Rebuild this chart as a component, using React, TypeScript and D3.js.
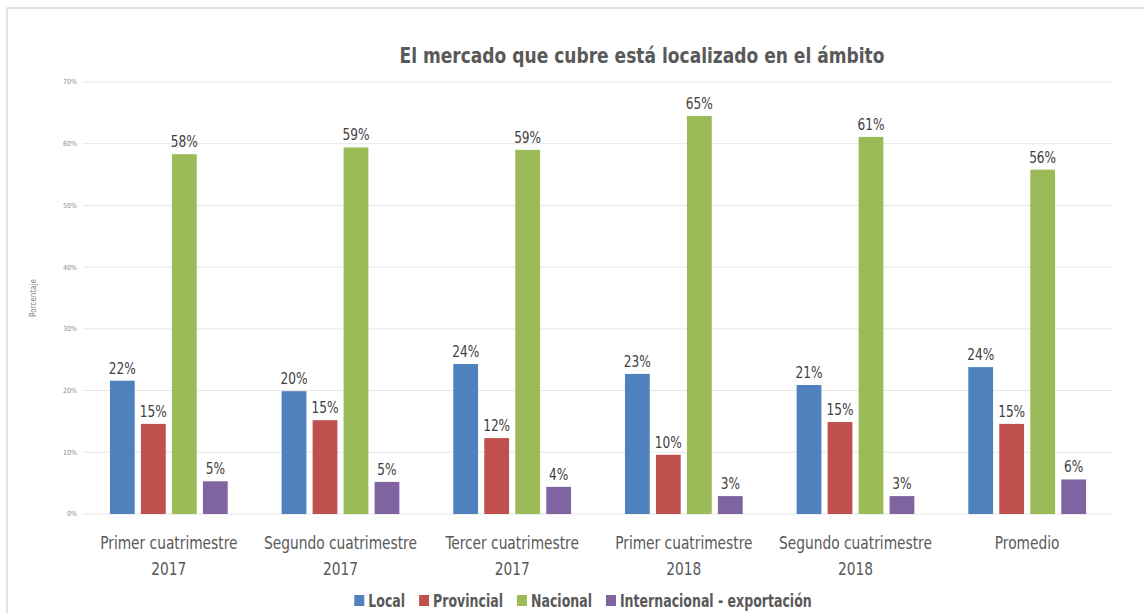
import React, { useEffect, useRef } from 'react';
import * as d3 from 'd3';

const categories = [
  ['Primer cuatrimestre', '2017'],
  ['Segundo cuatrimestre', '2017'],
  ['Tercer cuatrimestre', '2017'],
  ['Primer cuatrimestre', '2018'],
  ['Segundo cuatrimestre', '2018'],
  ['Promedio'],
];
const seriesNames = ['Local', 'Provincial', 'Nacional', 'Internacional - exportación'];
const seriesColors = ['#4F81BD', '#C0504D', '#9BBB59', '#8064A2'];
const local = [21.6, 19.9, 24.3, 22.7, 20.9, 23.8];
const provincial = [14.6, 15.2, 12.3, 9.6, 14.9, 14.6];
const nacional = [58.3, 59.4, 59.0, 64.5, 61.1, 55.8];
const internacional = [5.3, 5.2, 4.4, 2.9, 2.9, 5.6];
const yTicks = [0, 10, 20, 30, 40, 50, 60, 70];

const FONT = "'Liberation Sans Narrow', 'DejaVu Sans Condensed', 'Open Sans', sans-serif";

// squeeze DejaVu a bit so it runs about as wide as the original's narrow font
const condense = (t: d3.Selection<SVGTextElement, any, any, any>, k: number) => {
  t.each(function () {
    const w = this.getComputedTextLength();
    d3.select(this).attr('textLength', w * k).attr('lengthAdjust', 'spacingAndGlyphs');
  });
  return t;
};

const App = () => {
  const ref = useRef<SVGSVGElement>(null);

  useEffect(() => {
    const svg = d3.select(ref.current);
    svg.selectAll('*').remove();

    const width = 1145;
    const height = 613;
    const margin = { left: 83, right: 32, top: 82, bottom: 99 };
    const values = [local, provincial, nacional, internacional];

    // frame
    svg.append('path')
      .attr('d', `M7,${height} V8 H${width}`)
      .attr('fill', 'none')
      .attr('stroke', '#d9d9d9')
      .attr('stroke-width', 1.5);

    const x0 = d3.scaleBand<number>()
      .domain(categories.map((_, i) => i))
      .range([margin.left, width - margin.right]);
    const x1 = d3.scaleBand<number>()
      .domain(seriesNames.map((_, i) => i))
      .range([0, x0.bandwidth()])
      .paddingInner(0.2)
      .paddingOuter(0.87);
    const y = d3.scaleLinear().domain([0, 70]).range([height - margin.bottom, margin.top]);

    // grid
    svg.append('g')
      .selectAll('line')
      .data(yTicks)
      .enter()
      .append('line')
      .attr('x1', margin.left)
      .attr('x2', width - margin.right)
      .attr('y1', d => y(d))
      .attr('y2', d => y(d))
      .attr('stroke', '#e6e6e6')
      .attr('stroke-width', 1);

    svg.append('g')
      .selectAll('text')
      .data(yTicks)
      .enter()
      .append('text')
      .attr('x', 77)
      .attr('y', d => y(d))
      .attr('dy', '0.35em')
      .attr('text-anchor', 'end')
      .style('font-family', FONT)
      .style('font-size', '7px')
      .style('fill', '#8c8c8c')
      .text(d => `${d}%`);

    svg.append('text')
      .attr('transform', `translate(36, ${y(35)}) rotate(-90)`)
      .attr('text-anchor', 'middle')
      .style('font-family', FONT)
      .style('font-size', '8px')
      .style('fill', '#7f7f7f')
      .text('Porcentaje');

    // bars
    const groups = svg.append('g')
      .selectAll('g')
      .data(categories.map((_, i) => i))
      .enter()
      .append('g')
      .attr('transform', i => `translate(${x0(i)},0)`);

    seriesNames.forEach((_, s) => {
      groups.append('rect')
        .attr('x', x1(s)!)
        .attr('width', x1.bandwidth())
        .attr('y', i => y(values[s][i]))
        .attr('height', i => y(0) - y(values[s][i]))
        .attr('fill', seriesColors[s]);

      const lbl = groups.append('text')
        .attr('x', x1(s)! + x1.bandwidth() / 2)
        .attr('y', i => y(values[s][i]) - 7)
        .attr('text-anchor', 'middle')
        .style('font-family', FONT)
        .style('font-size', '15px')
        .style('fill', '#404040')
        .text(i => `${Math.round(values[s][i])}%`);
      condense(lbl as any, 0.9);
    });

    // category labels
    groups.each(function (i) {
      const g = d3.select(this);
      categories[i].forEach((line, k) => {
        const t = g.append('text')
          .attr('x', x0.bandwidth() / 2)
          .attr('y', 549 + k * 26)
          .attr('text-anchor', 'middle')
          .style('font-family', FONT)
          .style('font-size', '17px')
          .style('fill', '#595959')
          .text(line);
        condense(t as any, 0.9);
      });
    });

    // title
    const title = svg.append('text')
      .attr('x', 642)
      .attr('y', 63)
      .attr('text-anchor', 'middle')
      .style('font-family', FONT)
      .style('font-size', '22px')
      .style('font-weight', 'bold')
      .style('fill', '#595959')
      .text('El mercado que cubre está localizado en el ámbito');
    condense(title as any, 485 / (title.node() as SVGTextElement).getComputedTextLength());

    // legend
    const legend = svg.append('g');
    const k = 0.82;
    let lx = 0;
    seriesNames.forEach((name, s) => {
      const item = legend.append('g').attr('transform', `translate(${lx},0)`);
      item.append('rect')
        .attr('x', 0)
        .attr('y', -12)
        .attr('width', 10)
        .attr('height', 11)
        .attr('fill', seriesColors[s]);
      const t = item.append('text')
        .attr('x', 14)
        .attr('y', 0)
        .style('font-family', FONT)
        .style('font-size', '17px')
        .style('font-weight', 'bold')
        .style('fill', '#595959')
        .text(name);
      const w = (t.node() as SVGTextElement).getComputedTextLength() * k;
      condense(t as any, k);
      lx += 14 + w + 14;
    });
    const totalW = lx - 14;
    legend.attr('transform', `translate(${583 - totalW / 2}, 607)`);
  }, []);

  return (
    <svg
      ref={ref}
      width={1145}
      height={613}
      style={{ position: 'absolute', left: 0, top: 0, background: '#fff' }}
    />
  );
};

export default App;
